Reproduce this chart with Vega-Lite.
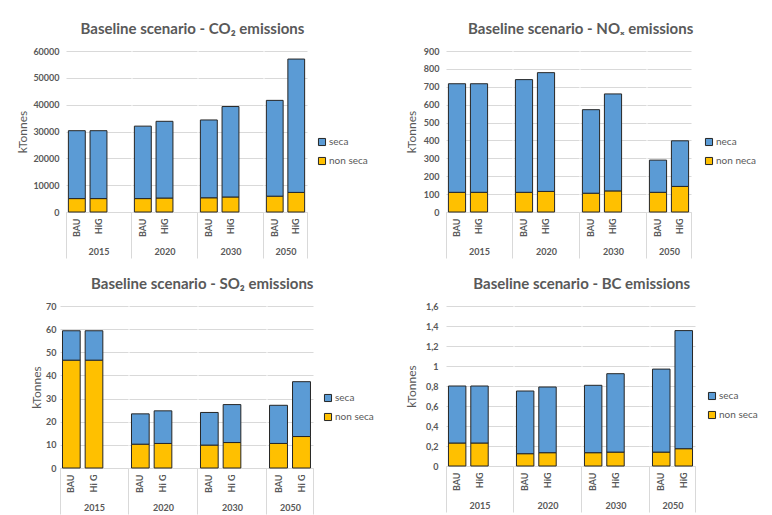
{
  "$schema": "https://vega.github.io/schema/vega-lite/v6.json",
  "background": "white",
  "padding": {"left": 16, "top": 22, "right": 0, "bottom": 0},
  "datasets": {
    "co2": [
      {"year": 2015, "scenario": "BAU", "type": "non seca", "value": 5000},
      {"year": 2015, "scenario": "BAU", "type": "seca", "value": 25300},
      {"year": 2015, "scenario": "HiG", "type": "non seca", "value": 5000},
      {"year": 2015, "scenario": "HiG", "type": "seca", "value": 25300},
      {"year": 2020, "scenario": "BAU", "type": "non seca", "value": 5000},
      {"year": 2020, "scenario": "BAU", "type": "seca", "value": 27000},
      {"year": 2020, "scenario": "HiG", "type": "non seca", "value": 5200},
      {"year": 2020, "scenario": "HiG", "type": "seca", "value": 28600},
      {"year": 2030, "scenario": "BAU", "type": "non seca", "value": 5300},
      {"year": 2030, "scenario": "BAU", "type": "seca", "value": 29000},
      {"year": 2030, "scenario": "HiG", "type": "non seca", "value": 5600},
      {"year": 2030, "scenario": "HiG", "type": "seca", "value": 33700},
      {"year": 2050, "scenario": "BAU", "type": "non seca", "value": 5900},
      {"year": 2050, "scenario": "BAU", "type": "seca", "value": 35700},
      {"year": 2050, "scenario": "HiG", "type": "non seca", "value": 7300},
      {"year": 2050, "scenario": "HiG", "type": "seca", "value": 49700}
    ],
    "nox": [
      {"year": 2015, "scenario": "BAU", "type": "non neca", "value": 110},
      {"year": 2015, "scenario": "BAU", "type": "neca", "value": 607},
      {"year": 2015, "scenario": "HiG", "type": "non neca", "value": 110},
      {"year": 2015, "scenario": "HiG", "type": "neca", "value": 607},
      {"year": 2020, "scenario": "BAU", "type": "non neca", "value": 110},
      {"year": 2020, "scenario": "BAU", "type": "neca", "value": 630},
      {"year": 2020, "scenario": "HiG", "type": "non neca", "value": 115},
      {"year": 2020, "scenario": "HiG", "type": "neca", "value": 664},
      {"year": 2030, "scenario": "BAU", "type": "non neca", "value": 105},
      {"year": 2030, "scenario": "BAU", "type": "neca", "value": 467},
      {"year": 2030, "scenario": "HiG", "type": "non neca", "value": 118},
      {"year": 2030, "scenario": "HiG", "type": "neca", "value": 542},
      {"year": 2050, "scenario": "BAU", "type": "non neca", "value": 110},
      {"year": 2050, "scenario": "BAU", "type": "neca", "value": 180},
      {"year": 2050, "scenario": "HiG", "type": "non neca", "value": 143},
      {"year": 2050, "scenario": "HiG", "type": "neca", "value": 255}
    ],
    "so2": [
      {"year": 2015, "scenario": "BAU", "type": "non seca", "value": 46.6},
      {"year": 2015, "scenario": "BAU", "type": "seca", "value": 12.7},
      {"year": 2015, "scenario": "Hi G", "type": "non seca", "value": 46.6},
      {"year": 2015, "scenario": "Hi G", "type": "seca", "value": 12.7},
      {"year": 2020, "scenario": "BAU", "type": "non seca", "value": 10.3},
      {"year": 2020, "scenario": "BAU", "type": "seca", "value": 13.1},
      {"year": 2020, "scenario": "Hi G", "type": "non seca", "value": 10.6},
      {"year": 2020, "scenario": "Hi G", "type": "seca", "value": 14.1},
      {"year": 2030, "scenario": "BAU", "type": "non seca", "value": 9.9},
      {"year": 2030, "scenario": "BAU", "type": "seca", "value": 14.1},
      {"year": 2030, "scenario": "Hi G", "type": "non seca", "value": 11.0},
      {"year": 2030, "scenario": "Hi G", "type": "seca", "value": 16.4},
      {"year": 2050, "scenario": "BAU", "type": "non seca", "value": 10.6},
      {"year": 2050, "scenario": "BAU", "type": "seca", "value": 16.5},
      {"year": 2050, "scenario": "Hi G", "type": "non seca", "value": 13.6},
      {"year": 2050, "scenario": "Hi G", "type": "seca", "value": 23.7}
    ],
    "bc": [
      {"year": 2015, "scenario": "BAU", "type": "non seca", "value": 0.23},
      {"year": 2015, "scenario": "BAU", "type": "seca", "value": 0.57},
      {"year": 2015, "scenario": "HiG", "type": "non seca", "value": 0.23},
      {"year": 2015, "scenario": "HiG", "type": "seca", "value": 0.57},
      {"year": 2020, "scenario": "BAU", "type": "non seca", "value": 0.123},
      {"year": 2020, "scenario": "BAU", "type": "seca", "value": 0.627},
      {"year": 2020, "scenario": "HiG", "type": "non seca", "value": 0.133},
      {"year": 2020, "scenario": "HiG", "type": "seca", "value": 0.657},
      {"year": 2030, "scenario": "BAU", "type": "non seca", "value": 0.133},
      {"year": 2030, "scenario": "BAU", "type": "seca", "value": 0.674},
      {"year": 2030, "scenario": "HiG", "type": "non seca", "value": 0.139},
      {"year": 2030, "scenario": "HiG", "type": "seca", "value": 0.784},
      {"year": 2050, "scenario": "BAU", "type": "non seca", "value": 0.139},
      {"year": 2050, "scenario": "BAU", "type": "seca", "value": 0.83},
      {"year": 2050, "scenario": "HiG", "type": "non seca", "value": 0.173},
      {"year": 2050, "scenario": "HiG", "type": "seca", "value": 1.181}
    ]
  },
  "columns": 2,
  "align": "each",
  "center": {"column": true, "row": false},
  "spacing": {"row": 18, "column": 31},
  "resolve": {"scale": {"color": "independent", "y": "independent"}, "legend": {"color": "independent"}},
  "concat": [
    {
      "data": {"name": "co2"},
      "title": {"text": "Baseline scenario - CO₂ emissions"},
      "spacing": 0,
      "resolve": {"scale": {"color": "independent", "y": "independent"}, "legend": {"color": "independent"}},
      "hconcat": [
        {
          "width": 65, "height": 161,
          "transform": [{"filter": "datum.year == 2015"}],
          "mark": {"type": "bar", "width": {"band": 0.78}},
          "encoding": {
            "x": {"field": "scenario", "type": "nominal", "scale": {"domain": ["BAU", "HiG", "_"], "paddingInner": 0, "paddingOuter": 0},
              "axis": {"title": "2015", "labelExpr": "datum.value == '_' ? '' : datum.value", "tickExtra": true, "tickOpacity": {"condition": {"test": "datum.value == '_' || datum.index < 0", "value": 1}, "value": 0}}},
            "y": {"field": "value", "type": "quantitative", "stack": "zero", "scale": {"domain": [0, 60000]}, "axis": {"title": "kTonnes", "tickCount": 6, "format": "d", "labelPadding": 7, "titlePadding": 3}},
            "color": {"field": "type", "type": "nominal", "scale": {"domain": ["seca", "non seca"], "range": ["#5B9BD5", "#FFC000"]}, "legend": null},
            "order": {"field": "type", "sort": "ascending"}
          }
        },
        {
          "width": 65, "height": 161,
          "transform": [{"filter": "datum.year == 2020"}],
          "mark": {"type": "bar", "width": {"band": 0.78}},
          "encoding": {
            "x": {"field": "scenario", "type": "nominal", "scale": {"domain": ["BAU", "HiG", "_"], "paddingInner": 0, "paddingOuter": 0},
              "axis": {"title": "2020", "labelExpr": "datum.value == '_' ? '' : datum.value", "tickOpacity": {"condition": {"test": "datum.value == '_'", "value": 1}, "value": 0}}},
            "y": {"field": "value", "type": "quantitative", "stack": "zero", "scale": {"domain": [0, 60000]}, "axis": {"title": null, "labels": false, "tickCount": 6}},
            "color": {"field": "type", "type": "nominal", "scale": {"domain": ["seca", "non seca"], "range": ["#5B9BD5", "#FFC000"]}, "legend": null},
            "order": {"field": "type", "sort": "ascending"}
          }
        },
        {
          "width": 65, "height": 161,
          "transform": [{"filter": "datum.year == 2030"}],
          "mark": {"type": "bar", "width": {"band": 0.78}},
          "encoding": {
            "x": {"field": "scenario", "type": "nominal", "scale": {"domain": ["BAU", "HiG", "_"], "paddingInner": 0, "paddingOuter": 0},
              "axis": {"title": "2030", "labelExpr": "datum.value == '_' ? '' : datum.value", "tickOpacity": {"condition": {"test": "datum.value == '_'", "value": 1}, "value": 0}}},
            "y": {"field": "value", "type": "quantitative", "stack": "zero", "scale": {"domain": [0, 60000]}, "axis": {"title": null, "labels": false, "tickCount": 6}},
            "color": {"field": "type", "type": "nominal", "scale": {"domain": ["seca", "non seca"], "range": ["#5B9BD5", "#FFC000"]}, "legend": null},
            "order": {"field": "type", "sort": "ascending"}
          }
        },
        {
          "width": 43, "height": 161,
          "transform": [{"filter": "datum.year == 2050"}],
          "mark": {"type": "bar", "width": {"band": 0.78}},
          "encoding": {
            "x": {"field": "scenario", "type": "nominal", "scale": {"domain": ["BAU", "HiG"], "paddingInner": 0, "paddingOuter": 0},
              "axis": {"title": "2050", "tickOpacity": {"condition": {"test": "datum.value == 'HiG'", "value": 1}, "value": 0}}},
            "y": {"field": "value", "type": "quantitative", "stack": "zero", "scale": {"domain": [0, 60000]}, "axis": {"title": null, "labels": false, "tickCount": 6}},
            "color": {"field": "type", "type": "nominal", "scale": {"domain": ["seca", "non seca"], "range": ["#5B9BD5", "#FFC000"]},
              "legend": {"orient": "none", "legendX": 53, "legendY": 86}},
            "order": {"field": "type", "sort": "ascending"}
          }
        }
      ]
    },
    {
      "data": {"name": "nox"},
      "title": {"text": "Baseline scenario - NOₓ emissions"},
      "spacing": 0,
      "resolve": {"scale": {"color": "independent", "y": "independent"}, "legend": {"color": "independent"}},
      "hconcat": [
        {
          "width": 66, "height": 161,
          "transform": [{"filter": "datum.year == 2015"}],
          "mark": {"type": "bar", "width": {"band": 0.78}},
          "encoding": {
            "x": {"field": "scenario", "type": "nominal", "scale": {"domain": ["BAU", "HiG", "_"], "paddingInner": 0, "paddingOuter": 0},
              "axis": {"title": "2015", "labelExpr": "datum.value == '_' ? '' : datum.value", "tickExtra": true, "tickOpacity": {"condition": {"test": "datum.value == '_' || datum.index < 0", "value": 1}, "value": 0}}},
            "y": {"field": "value", "type": "quantitative", "stack": "zero", "scale": {"domain": [0, 900]}, "axis": {"title": "kTonnes", "tickCount": 9, "labelPadding": 7, "titlePadding": 5}},
            "color": {"field": "type", "type": "nominal", "scale": {"domain": ["neca", "non neca"], "range": ["#5B9BD5", "#FFC000"]}, "legend": null},
            "order": {"field": "type", "sort": "descending"}
          }
        },
        {
          "width": 66, "height": 161,
          "transform": [{"filter": "datum.year == 2020"}],
          "mark": {"type": "bar", "width": {"band": 0.78}},
          "encoding": {
            "x": {"field": "scenario", "type": "nominal", "scale": {"domain": ["BAU", "HiG", "_"], "paddingInner": 0, "paddingOuter": 0},
              "axis": {"title": "2020", "labelExpr": "datum.value == '_' ? '' : datum.value", "tickOpacity": {"condition": {"test": "datum.value == '_'", "value": 1}, "value": 0}}},
            "y": {"field": "value", "type": "quantitative", "stack": "zero", "scale": {"domain": [0, 900]}, "axis": {"title": null, "labels": false, "tickCount": 9}},
            "color": {"field": "type", "type": "nominal", "scale": {"domain": ["neca", "non neca"], "range": ["#5B9BD5", "#FFC000"]}, "legend": null},
            "order": {"field": "type", "sort": "descending"}
          }
        },
        {
          "width": 66, "height": 161,
          "transform": [{"filter": "datum.year == 2030"}],
          "mark": {"type": "bar", "width": {"band": 0.78}},
          "encoding": {
            "x": {"field": "scenario", "type": "nominal", "scale": {"domain": ["BAU", "HiG", "_"], "paddingInner": 0, "paddingOuter": 0},
              "axis": {"title": "2030", "labelExpr": "datum.value == '_' ? '' : datum.value", "tickOpacity": {"condition": {"test": "datum.value == '_'", "value": 1}, "value": 0}}},
            "y": {"field": "value", "type": "quantitative", "stack": "zero", "scale": {"domain": [0, 900]}, "axis": {"title": null, "labels": false, "tickCount": 9}},
            "color": {"field": "type", "type": "nominal", "scale": {"domain": ["neca", "non neca"], "range": ["#5B9BD5", "#FFC000"]}, "legend": null},
            "order": {"field": "type", "sort": "descending"}
          }
        },
        {
          "width": 44, "height": 161,
          "transform": [{"filter": "datum.year == 2050"}],
          "mark": {"type": "bar", "width": {"band": 0.78}},
          "encoding": {
            "x": {"field": "scenario", "type": "nominal", "scale": {"domain": ["BAU", "HiG"], "paddingInner": 0, "paddingOuter": 0},
              "axis": {"title": "2050", "tickOpacity": {"condition": {"test": "datum.value == 'HiG'", "value": 1}, "value": 0}}},
            "y": {"field": "value", "type": "quantitative", "stack": "zero", "scale": {"domain": [0, 900]}, "axis": {"title": null, "labels": false, "tickCount": 9}},
            "color": {"field": "type", "type": "nominal", "scale": {"domain": ["neca", "non neca"], "range": ["#5B9BD5", "#FFC000"]},
              "legend": {"orient": "none", "legendX": 57, "legendY": 86}},
            "order": {"field": "type", "sort": "descending"}
          }
        }
      ]
    },
    {
      "data": {"name": "so2"},
      "title": {"text": "Baseline scenario - SO₂ emissions"},
      "spacing": 0,
      "resolve": {"scale": {"color": "independent", "y": "independent"}, "legend": {"color": "independent"}},
      "hconcat": [
        {
          "width": 68, "height": 162,
          "transform": [{"filter": "datum.year == 2015"}],
          "mark": {"type": "bar", "width": {"band": 0.78}},
          "encoding": {
            "x": {"field": "scenario", "type": "nominal", "scale": {"domain": ["BAU", "Hi G", "_"], "paddingInner": 0, "paddingOuter": 0},
              "axis": {"title": "2015", "labelExpr": "datum.value == '_' ? '' : datum.value", "tickExtra": true, "tickOpacity": {"condition": {"test": "datum.value == '_' || datum.index < 0", "value": 1}, "value": 0}}},
            "y": {"field": "value", "type": "quantitative", "stack": "zero", "scale": {"domain": [0, 70]}, "axis": {"title": "kTonnes", "tickCount": 7, "labelPadding": 4, "titlePadding": 2}},
            "color": {"field": "type", "type": "nominal", "scale": {"domain": ["seca", "non seca"], "range": ["#5B9BD5", "#FFC000"]}, "legend": null},
            "order": {"field": "type", "sort": "ascending"}
          }
        },
        {
          "width": 68, "height": 162,
          "transform": [{"filter": "datum.year == 2020"}],
          "mark": {"type": "bar", "width": {"band": 0.78}},
          "encoding": {
            "x": {"field": "scenario", "type": "nominal", "scale": {"domain": ["BAU", "Hi G", "_"], "paddingInner": 0, "paddingOuter": 0},
              "axis": {"title": "2020", "labelExpr": "datum.value == '_' ? '' : datum.value", "tickOpacity": {"condition": {"test": "datum.value == '_'", "value": 1}, "value": 0}}},
            "y": {"field": "value", "type": "quantitative", "stack": "zero", "scale": {"domain": [0, 70]}, "axis": {"title": null, "labels": false, "tickCount": 7}},
            "color": {"field": "type", "type": "nominal", "scale": {"domain": ["seca", "non seca"], "range": ["#5B9BD5", "#FFC000"]}, "legend": null},
            "order": {"field": "type", "sort": "ascending"}
          }
        },
        {
          "width": 68, "height": 162,
          "transform": [{"filter": "datum.year == 2030"}],
          "mark": {"type": "bar", "width": {"band": 0.78}},
          "encoding": {
            "x": {"field": "scenario", "type": "nominal", "scale": {"domain": ["BAU", "Hi G", "_"], "paddingInner": 0, "paddingOuter": 0},
              "axis": {"title": "2030", "labelExpr": "datum.value == '_' ? '' : datum.value", "tickOpacity": {"condition": {"test": "datum.value == '_'", "value": 1}, "value": 0}}},
            "y": {"field": "value", "type": "quantitative", "stack": "zero", "scale": {"domain": [0, 70]}, "axis": {"title": null, "labels": false, "tickCount": 7}},
            "color": {"field": "type", "type": "nominal", "scale": {"domain": ["seca", "non seca"], "range": ["#5B9BD5", "#FFC000"]}, "legend": null},
            "order": {"field": "type", "sort": "ascending"}
          }
        },
        {
          "width": 46, "height": 162,
          "transform": [{"filter": "datum.year == 2050"}],
          "mark": {"type": "bar", "width": {"band": 0.78}},
          "encoding": {
            "x": {"field": "scenario", "type": "nominal", "scale": {"domain": ["BAU", "Hi G"], "paddingInner": 0, "paddingOuter": 0},
              "axis": {"title": "2050", "tickOpacity": {"condition": {"test": "datum.value == 'Hi G'", "value": 1}, "value": 0}}},
            "y": {"field": "value", "type": "quantitative", "stack": "zero", "scale": {"domain": [0, 70]}, "axis": {"title": null, "labels": false, "tickCount": 7}},
            "color": {"field": "type", "type": "nominal", "scale": {"domain": ["seca", "non seca"], "range": ["#5B9BD5", "#FFC000"]},
              "legend": {"orient": "none", "legendX": 56, "legendY": 87}},
            "order": {"field": "type", "sort": "ascending"}
          }
        }
      ]
    },
    {
      "data": {"name": "bc"},
      "title": {"text": "Baseline scenario - BC emissions"},
      "spacing": 0,
      "resolve": {"scale": {"color": "independent", "y": "independent"}, "legend": {"color": "independent"}},
      "hconcat": [
        {
          "width": 67, "height": 160,
          "transform": [{"filter": "datum.year == 2015"}],
          "mark": {"type": "bar", "width": {"band": 0.78}},
          "encoding": {
            "x": {"field": "scenario", "type": "nominal", "scale": {"domain": ["BAU", "HiG", "_"], "paddingInner": 0, "paddingOuter": 0},
              "axis": {"title": "2015", "labelExpr": "datum.value == '_' ? '' : datum.value", "tickExtra": true, "tickOpacity": {"condition": {"test": "datum.value == '_' || datum.index < 0", "value": 1}, "value": 0}}},
            "y": {"field": "value", "type": "quantitative", "stack": "zero", "scale": {"domain": [0, 1.6]}, "axis": {"title": "kTonnes", "tickCount": 8, "format": "~g", "labelExpr": "replace(datum.label, '.', ',')", "labelPadding": 8, "titlePadding": 7}},
            "color": {"field": "type", "type": "nominal", "scale": {"domain": ["seca", "non seca"], "range": ["#5B9BD5", "#FFC000"]}, "legend": null},
            "order": {"field": "type", "sort": "ascending"}
          }
        },
        {
          "width": 67, "height": 160,
          "transform": [{"filter": "datum.year == 2020"}],
          "mark": {"type": "bar", "width": {"band": 0.78}},
          "encoding": {
            "x": {"field": "scenario", "type": "nominal", "scale": {"domain": ["BAU", "HiG", "_"], "paddingInner": 0, "paddingOuter": 0},
              "axis": {"title": "2020", "labelExpr": "datum.value == '_' ? '' : datum.value", "tickOpacity": {"condition": {"test": "datum.value == '_'", "value": 1}, "value": 0}}},
            "y": {"field": "value", "type": "quantitative", "stack": "zero", "scale": {"domain": [0, 1.6]}, "axis": {"title": null, "labels": false, "tickCount": 8}},
            "color": {"field": "type", "type": "nominal", "scale": {"domain": ["seca", "non seca"], "range": ["#5B9BD5", "#FFC000"]}, "legend": null},
            "order": {"field": "type", "sort": "ascending"}
          }
        },
        {
          "width": 67, "height": 160,
          "transform": [{"filter": "datum.year == 2030"}],
          "mark": {"type": "bar", "width": {"band": 0.78}},
          "encoding": {
            "x": {"field": "scenario", "type": "nominal", "scale": {"domain": ["BAU", "HiG", "_"], "paddingInner": 0, "paddingOuter": 0},
              "axis": {"title": "2030", "labelExpr": "datum.value == '_' ? '' : datum.value", "tickOpacity": {"condition": {"test": "datum.value == '_'", "value": 1}, "value": 0}}},
            "y": {"field": "value", "type": "quantitative", "stack": "zero", "scale": {"domain": [0, 1.6]}, "axis": {"title": null, "labels": false, "tickCount": 8}},
            "color": {"field": "type", "type": "nominal", "scale": {"domain": ["seca", "non seca"], "range": ["#5B9BD5", "#FFC000"]}, "legend": null},
            "order": {"field": "type", "sort": "ascending"}
          }
        },
        {
          "width": 45, "height": 160,
          "transform": [{"filter": "datum.year == 2050"}],
          "mark": {"type": "bar", "width": {"band": 0.78}},
          "encoding": {
            "x": {"field": "scenario", "type": "nominal", "scale": {"domain": ["BAU", "HiG"], "paddingInner": 0, "paddingOuter": 0},
              "axis": {"title": "2050", "tickOpacity": {"condition": {"test": "datum.value == 'HiG'", "value": 1}, "value": 0}}},
            "y": {"field": "value", "type": "quantitative", "stack": "zero", "scale": {"domain": [0, 1.6]}, "axis": {"title": null, "labels": false, "tickCount": 8}},
            "color": {"field": "type", "type": "nominal", "scale": {"domain": ["seca", "non seca"], "range": ["#5B9BD5", "#FFC000"]},
              "legend": {"orient": "none", "legendX": 57, "legendY": 85}},
            "order": {"field": "type", "sort": "ascending"}
          }
        }
      ]
    }
  ],
  "config": {
    "font": "Lato",
    "view": {"stroke": null},
    "bar": {"stroke": "#262626", "strokeWidth": 1},
    "title": {"fontSize": 15, "fontWeight": "bold", "color": "#595959", "font": "Lato", "anchor": "middle", "offset": 10},
    "axis": {"labelColor": "#595959", "titleColor": "#595959", "labelFont": "Lato", "titleFont": "Lato"},
    "axisY": {"grid": true, "gridColor": "#d9d9d9", "domain": false, "ticks": false, "labelFontSize": 9, "labelFontWeight": "bold", "titleFontSize": 12, "titleFontWeight": "normal"},
    "axisX": {"grid": false, "labelAngle": -90, "labelAlign": "right", "labelBaseline": "middle", "labelFontSize": 9, "labelFontWeight": "bold", "labelPadding": -40, "domainColor": "#d9d9d9", "tickColor": "#d9d9d9", "bandPosition": 1, "tickSize": 46, "titleFontSize": 9, "titleFontWeight": "bold", "titleY": 39, "titleBaseline": "middle"},
    "legend": {"title": null, "symbolType": "square", "symbolSize": 50, "symbolStrokeColor": "#262626", "symbolStrokeWidth": 1, "labelFontSize": 10, "labelColor": "#595959", "labelFont": "Lato", "rowPadding": 7, "labelOffset": 2, "padding": 0}
  }
}
